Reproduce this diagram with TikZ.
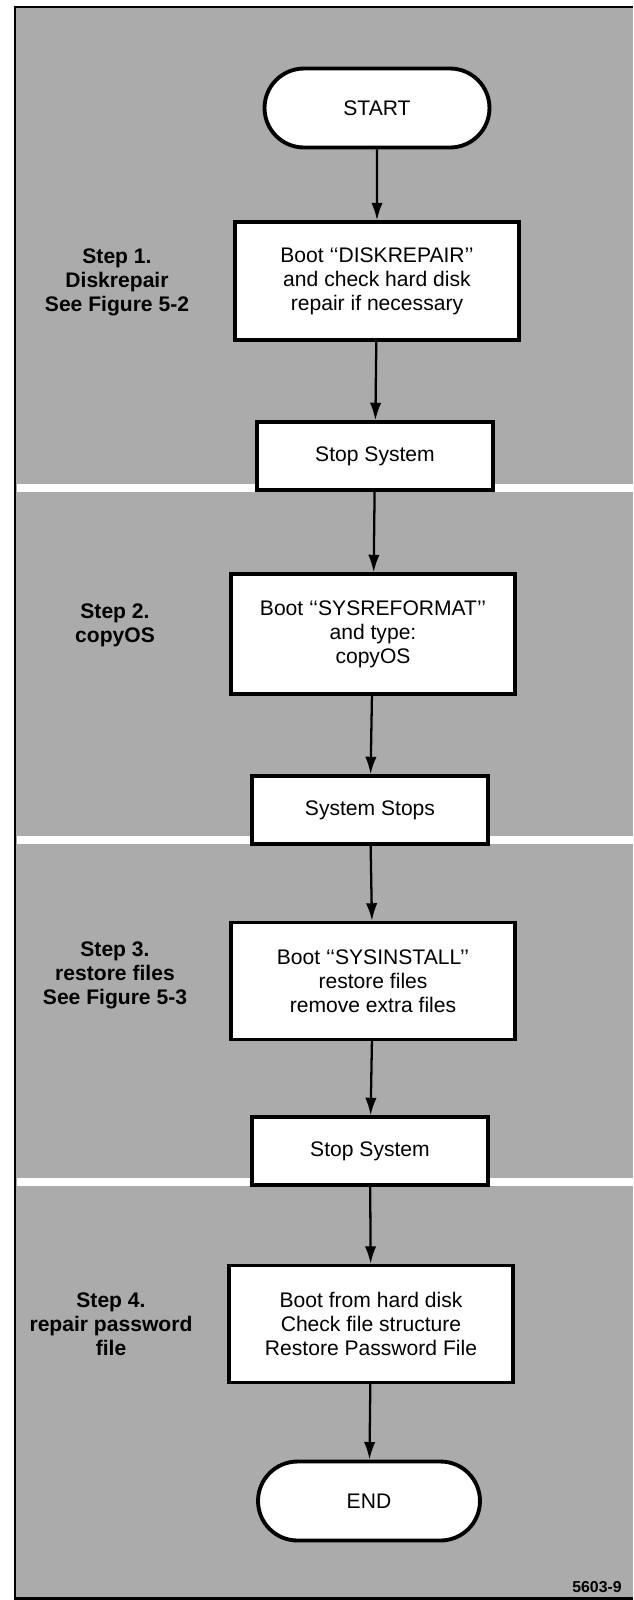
\documentclass[tikz,border=0pt]{standalone}
\usepackage{fontspec}
\setmainfont{Liberation Sans}
\usetikzlibrary{arrows.meta, shapes.misc}

\tikzset{
  terminal/.style={draw, line width=2.2pt, fill=white, rounded rectangle,
    minimum width=4.5cm, minimum height=1.58cm, inner sep=0pt,
    font=\fontsize{12}{13.6}\selectfont},
  procbox/.style={draw, line width=1.9pt, fill=white, minimum width=5.68cm,
    minimum height=2.36cm, inner sep=0pt, align=center,
    font=\fontsize{12}{13.6}\selectfont},
  stopbox/.style={procbox, minimum width=4.72cm, minimum height=1.36cm},
  steplabel/.style={align=center, font=\bfseries\fontsize{12}{13.6}\selectfont},
  flow/.style={-{Latex[length=10pt,width=6.5pt]}, line width=1.3pt},
  seam/.style={white, line width=4.5pt}
}

\begin{document}
\begin{tikzpicture}[x=0.02cm, y=-0.02cm]
                \useasboundingbox (0,0) rectangle (633,1600);
                % grey panel
                \fill[black!33] (15,7) rectangle (633,1598);
                \draw[line width=1.7pt] (633,7) -- (15,7) -- (15,1598) -- (633,1598);
                \draw[seam] (17,488) -- (633,488);
                \draw[seam] (17,840) -- (633,840);
                \draw[seam] (17,1182) -- (633,1182);

                \node[terminal] (start) at (377,108) {START};
                \node[procbox] (diskrepair) at (377,281) {Boot ‘‘DISKREPAIR’’\\and check hard disk\\repair if necessary};
                \node[stopbox] (stop1) at (375,456) {Stop System};
                \node[procbox, minimum height=2.4cm] (reformat) at (373,634) {Boot ‘‘SYSREFORMAT’’\\and type:\\copyOS};
                \node[stopbox] (stop2) at (370,810) {System Stops};
                \node[procbox, minimum height=2.34cm] (install) at (373,981) {Boot ‘‘SYSINSTALL’’\\restore files\\remove extra files};
                \node[stopbox] (stop3) at (370,1151) {Stop System};
                \node[procbox, minimum height=2.34cm] (harddisk) at (371,1324) {Boot from hard disk\\Check file structure\\Restore Password File};
                \node[terminal, minimum width=4.44cm] (end) at (369,1501) {END};

                \node[steplabel] (step1) at (117,282) {Step 1.\\Diskrepair\\See Figure 5-2};
                \node[steplabel] (step2) at (115,625) {Step 2.\\copyOS};
                \node[steplabel] (step3) at (115,975) {Step 3.\\restore files\\See Figure 5-3};
                \node[steplabel] (step4) at (111,1324) {Step 4.\\repair password\\file};
                \node[font=\bfseries\fontsize{9}{10}\selectfont] (figno) at (597,1587) {5603-9};

                \draw[flow] (start) -- (diskrepair);
                \draw[flow] (diskrepair) -- (stop1);
                \draw[flow] (stop1) -- (reformat);
                \draw[flow] (reformat) -- (stop2);
                \draw[flow] (stop2) -- (install);
                \draw[flow] (install) -- (stop3);
                \draw[flow] (stop3) -- (harddisk);
                \draw[flow] (harddisk) -- (end);
            \end{tikzpicture}
\end{document}
